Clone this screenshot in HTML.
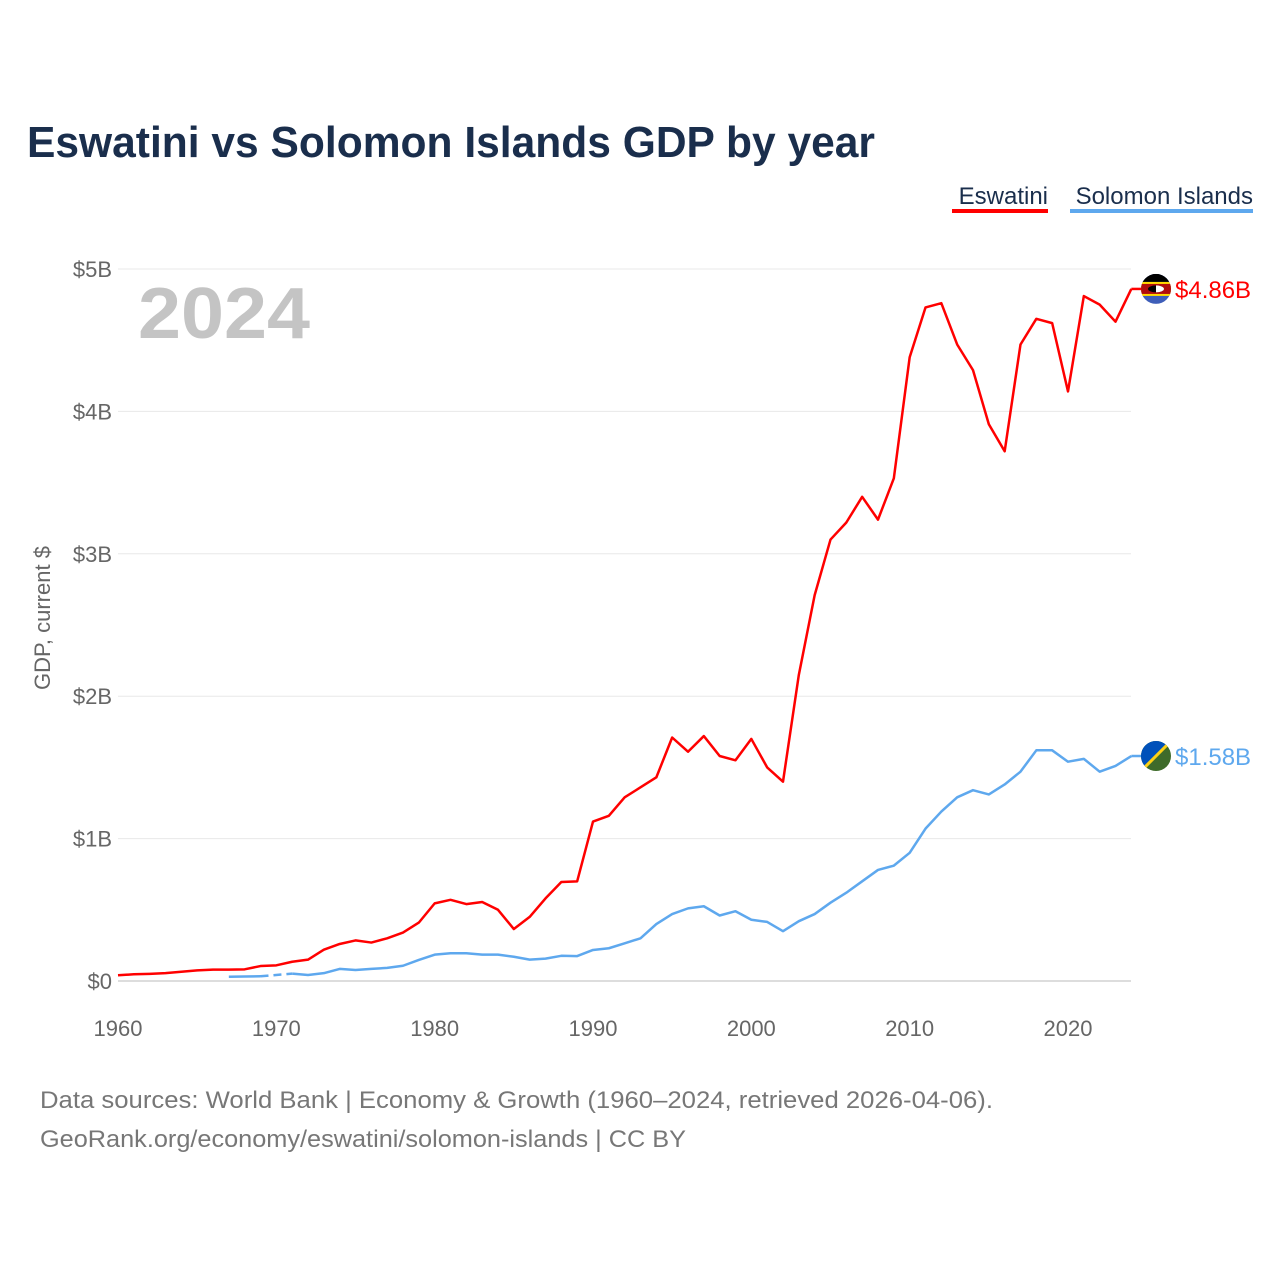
<!DOCTYPE html>
<html><head><meta charset="utf-8"><style>
body{margin:0;background:#fff;font-family:"Liberation Sans",sans-serif}
#wrap{position:relative;width:1280px;height:1280px;overflow:hidden}
</style></head><body>
<div id="wrap">
<svg id="chart" width="1280" height="1280">
<text x="27" y="157" font-size="44" font-weight="bold" fill="#1a2e4c" textLength="848" lengthAdjust="spacingAndGlyphs">Eswatini vs Solomon Islands GDP by year</text>
<g>
<text x="1048" y="204" font-size="24" fill="#1a2e4c" text-anchor="end">Eswatini</text>
<rect x="952" y="209" width="96" height="4" fill="#ff0000"/>
<text x="1253" y="204" font-size="24" fill="#1a2e4c" text-anchor="end">Solomon Islands</text>
<rect x="1070" y="209" width="183" height="4" fill="#5ea8ee"/>
</g>
<text x="138" y="338" font-size="72" font-weight="bold" fill="#c4c4c4" textLength="172" lengthAdjust="spacingAndGlyphs">2024</text>
<text transform="translate(50,618) rotate(-90)" font-size="22" fill="#666" text-anchor="middle">GDP, current $</text>
<g id="grid"></g><g id="xt"></g><g id="series"></g>
<text x="40" y="1108" font-size="24" fill="#777" textLength="953" lengthAdjust="spacingAndGlyphs">Data sources: World Bank | Economy &amp; Growth (1960–2024, retrieved 2026-04-06).</text>
<text x="40" y="1147" font-size="24" fill="#777" textLength="646" lengthAdjust="spacingAndGlyphs">GeoRank.org/economy/eswatini/solomon-islands | CC BY</text>
</svg></div>
<script>
const yTicks=[0,1,2,3,4,5];
const yTickLabels=["$0","$1B","$2B","$3B","$4B","$5B"];
const xTicks=[1960,1970,1980,1990,2000,2010,2020];
const eswYears=[];for(let y=1960;y<=2024;y++)eswYears.push(y);
const eswatini=[0.04,0.047,0.05,0.055,0.065,0.075,0.08,0.08,0.082,0.105,0.11,0.135,0.15,0.22,0.26,0.285,0.27,0.30,0.34,0.41,0.545,0.57,0.54,0.555,0.5,0.365,0.45,0.58,0.695,0.70,1.12,1.16,1.29,1.36,1.43,1.71,1.61,1.72,1.58,1.55,1.70,1.50,1.40,2.15,2.71,3.10,3.22,3.40,3.24,3.53,4.38,4.73,4.76,4.47,4.29,3.91,3.72,4.47,4.65,4.62,4.14,4.81,4.75,4.63,4.86];
const solYears=[];for(let y=1967;y<=2024;y++)solYears.push(y);
const solomon=[0.03,0.032,0.033,null,0.052,0.042,0.055,0.085,0.077,0.085,0.092,0.107,0.148,0.185,0.195,0.195,0.185,0.185,0.17,0.15,0.157,0.177,0.175,0.218,0.23,0.265,0.30,0.40,0.47,0.51,0.525,0.46,0.49,0.43,0.415,0.35,0.42,0.47,0.55,0.62,0.70,0.78,0.81,0.90,1.07,1.19,1.29,1.34,1.31,1.38,1.47,1.62,1.62,1.54,1.56,1.47,1.51,1.58];
const X=y=>118+(y-1960)*950/60, Y=v=>981-v*142.4;
const NS="http://www.w3.org/2000/svg";
function mk(t,a,p){const e=document.createElementNS(NS,t);for(const k in a)e.setAttribute(k,a[k]);p.appendChild(e);return e;}
const grid=document.getElementById('grid');
yTicks.forEach((v,i)=>{
 const l=mk('line',{x1:118,x2:1131,y1:Y(v),y2:Y(v),stroke:v===0?'#ddd':'#e8e8e8','stroke-width':v===0?2:1},grid);
 
 
 const t=mk('text',{x:112,y:Y(v)+8,'font-size':22,fill:'#666','text-anchor':'end'},grid);
 t.textContent=yTickLabels[i];
 
 
});
const xt=document.getElementById('xt');
xTicks.forEach(v=>{
 const t=mk('text',{x:X(v),y:1036,'font-size':22,fill:'#666','text-anchor':'middle'},xt);
 t.textContent=v;
 
 
});
const S=document.getElementById('series');
function draw(years,vals,color,name){
 let segs=[],cur=[];
 years.forEach((y,i)=>{if(vals[i]==null){if(cur.length)segs.push(cur);cur=[];}else cur.push([X(y),Y(vals[i])]);});
 if(cur.length)segs.push(cur);
 segs.forEach(s=>{const p=mk('polyline',{points:s.map(q=>q.join(',')).join(' '),fill:'none',stroke:color,'stroke-width':2.5,'stroke-linejoin':'round'},S);
  
  });
 for(let i=1;i<segs.length;i++){const a=segs[i-1][segs[i-1].length-1],b=segs[i][0];
  const d=mk('line',{x1:a[0],y1:a[1],x2:b[0],y2:b[1],stroke:color,'stroke-width':2.5,'stroke-dasharray':'8,5'},S);
  
  }
 const lv=vals[vals.length-1],ly=Y(lv);
 const e=mk('line',{x1:X(2024),y1:ly,x2:1142,y2:ly,stroke:color,'stroke-width':2.5},S);
 
 
 return ly;
}
const ey=draw(eswYears,eswatini,'#ff0000','eswatini');
const sy=draw(solYears,solomon,'#5ea8ee','solomon');
const defs=mk('defs',{},S);
const c1=mk('clipPath',{id:'c1'},defs);mk('circle',{cx:1156,cy:ey,r:15},c1);
const c2=mk('clipPath',{id:'c2'},defs);mk('circle',{cx:1156,cy:sy,r:15},c2);
const g1=mk('g',{'clip-path':'url(#c1)'},S);


mk('rect',{x:1141,y:ey-15,width:30,height:30,fill:'#3e5eb9'},g1);
mk('rect',{x:1141,y:ey-15,width:30,height:8,fill:'#000'},g1);
mk('rect',{x:1141,y:ey-7,width:30,height:14,fill:'#ffd900'},g1);
mk('rect',{x:1141,y:ey-5,width:30,height:10,fill:'#b10c0c'},g1);
mk('ellipse',{cx:1156,cy:ey,rx:8,ry:3.5,fill:'#000'},g1);
mk('path',{d:`M1156 ${ey-3.5}A8 3.5 0 0 1 1156 ${ey+3.5}Z`,fill:'#fff'},g1);
const g2=mk('g',{'clip-path':'url(#c2)'},S);


mk('rect',{x:1141,y:sy-15,width:30,height:30,fill:'#3e6b2a'},g2);
mk('path',{d:`M1141 ${sy-15}H1171L1141 ${sy+15}Z`,fill:'#0051ba'},g2);
mk('line',{x1:1171,y1:sy-15,x2:1141,y2:sy+15,stroke:'#fcd116','stroke-width':3},g2);
const t1=mk('text',{x:1175,y:ey+9,'font-size':24,fill:'#ff0000'},S);t1.textContent='$4.86B';


const t2=mk('text',{x:1175,y:sy+9,'font-size':24,fill:'#5ea8ee'},S);t2.textContent='$1.58B';


</script>
</body></html>
